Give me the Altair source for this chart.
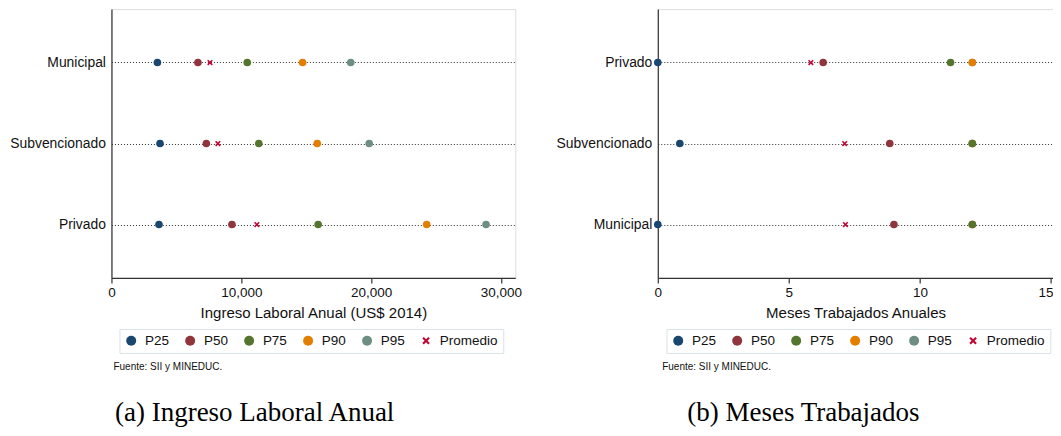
import altair as alt
import pandas as pd

# ---- data ----
stats = ["P25", "P50", "P75", "P90", "P95", "Promedio"]
colors = ["#1a476f", "#90353b", "#55752f", "#e37e00", "#6e8e84", "#c10534"]

left_cats = ["Municipal", "Subvencionado", "Privado"]
left_p25 = [3540, 3740, 3660]
left_p50 = [6660, 7310, 9280]
left_p75 = [10460, 11350, 15920]
left_p90 = [14720, 15850, 24280]
left_p95 = [18430, 19850, 28850]
left_mean = [7590, 8200, 11200]
left_ticks = [0, 10000, 20000, 30000]

right_cats = ["Privado", "Subvencionado", "Municipal"]
right_p25 = [0.0, 0.84, 0.0]
right_p50 = [6.31, 8.85, 9.01]
right_p75 = [11.17, 12.0, 12.0]
right_p90 = [12.0, 12.0, 12.0]
right_p95 = [12.0, 12.0, 12.0]
right_mean = [5.84, 7.13, 7.16]
right_ticks = [0, 5, 10, 15]

X_PATH = ("M-0.75,-0.45L-0.45,-0.75L0,-0.3L0.45,-0.75L0.75,-0.45L0.3,0"
          "L0.75,0.45L0.45,0.75L0,0.3L-0.45,0.75L-0.75,0.45L-0.3,0Z")
shapes = ["circle"] * 5 + [X_PATH]

FONT = "Liberation Sans"
TXT = "#111111"
AX = "#333333"


def long_df(cats, p25, p50, p75, p90, p95, mean):
    # drawn in reverse order so lower percentiles sit on top when they coincide
    series = [("P95", p95), ("P90", p90), ("P75", p75), ("P50", p50),
              ("P25", p25), ("Promedio", mean)]
    rows = []
    for name, vals in series:
        for c, v in zip(cats, vals):
            rows.append({"cat": c, "stat": name, "v": v})
    return pd.DataFrame(rows)


def panel(cats, df, xtitle, xmax, width, ticks, fmt, caption, leg_x,
          fuente_x, cap_x, last_label_shift):
    legend = alt.Legend(
        title=None, orient="none", legendX=leg_x, legendY=320,
        direction="horizontal", columns=6, gridAlign="none",
        labelFont=FONT, labelFontSize=13.5,
        labelColor=TXT, columnPadding=14, labelOffset=7, padding=5,
        strokeColor="#d9e2e6", fillColor="white", symbolOpacity=1,
        symbolStrokeWidth=0,
    )
    label_offset = {"condition": {"test": f"datum.value === {ticks[-1]}",
                                  "value": last_label_shift},
                    "value": 0}
    pts = alt.Chart(df).mark_point(filled=True, size=58, opacity=1).encode(
        x=alt.X("v:Q",
                scale=alt.Scale(domain=[0, xmax], nice=False, zero=True),
                axis=alt.Axis(values=ticks, format=fmt, title=xtitle,
                              grid=False, tickSize=5, tickColor=AX,
                              tickWidth=1.2, domainColor=AX, domainWidth=1.2,
                              labelFont=FONT, labelFontSize=13.5,
                              labelColor=TXT, labelPadding=3,
                              labelOffset=label_offset,
                              titleFont=FONT, titleFontSize=15,
                              titleFontWeight="normal", titleColor=TXT,
                              titlePadding=6, labelFlush=False)),
        y=alt.Y("cat:N", sort=cats,
                scale=alt.Scale(type="point", padding=0.66),
                axis=alt.Axis(title=None, grid=True, gridDash=[1, 2],
                              gridColor="#333333", gridWidth=1.1,
                              ticks=False, domainColor=AX, domainWidth=1.2,
                              labelFont=FONT, labelFontSize=13.9,
                              labelColor=TXT, labelPadding=6)),
        color=alt.Color("stat:N", scale=alt.Scale(domain=stats, range=colors),
                        legend=legend),
        shape=alt.Shape("stat:N", scale=alt.Scale(domain=stats, range=shapes),
                        legend=legend),
    )
    src = alt.Chart(pd.DataFrame({"t": ["Fuente: SII y MINEDUC."]})).mark_text(
        align="left", baseline="middle", font=FONT, fontSize=10, color=TXT
    ).encode(text="t:N", x=alt.value(fuente_x), y=alt.value(358.5))
    cap = alt.Chart(pd.DataFrame({"t": [caption]})).mark_text(
        align="center", baseline="alphabetic", font="Liberation Serif",
        fontSize=27, color="#000000"
    ).encode(text="t:N", x=alt.value(cap_x), y=alt.value(412))
    return alt.layer(pts, src, cap).properties(width=width, height=269)


left = panel(left_cats,
             long_df(left_cats, left_p25, left_p50, left_p75, left_p90,
                     left_p95, left_mean),
             "Ingreso Laboral Anual (US$ 2014)", 31100, 404, left_ticks, ",d",
             "(a) Ingreso Laboral Anual", 8, 2, 143.3, 0)
# right panel is cut at the page edge, as in the reference
right = panel(right_cats,
              long_df(right_cats, right_p25, right_p50, right_p75, right_p90,
                      right_p95, right_mean),
              "Meses Trabajados Anuales", 15.09, 395.7, right_ticks, "d",
              "(b) Meses Trabajados", 8.7, 4.4, 145.7, -5.5)

chart = alt.hconcat(left, right, spacing=142.6, bounds="flush").resolve_scale(
    color="independent", shape="independent"
).resolve_legend(
    color="independent", shape="independent"
).properties(
    padding={"left": 0.5, "top": 0, "right": -1, "bottom": 0}
).configure_view(stroke=None).configure(background="white")

chart.save("out.html", embed_options={"renderer": "svg", "actions": False})
